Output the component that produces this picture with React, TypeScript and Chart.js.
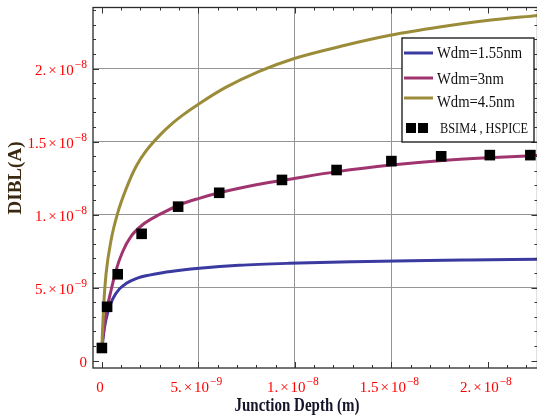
import React, { useEffect, useRef } from "react";
import { Chart, registerables } from "chart.js";

Chart.register(...registerables);

// ---- data (junction depth in m, DIBL in A) ----
const blueX = [0, 0.14e-9, 0.31e-9, 0.57e-9, 0.91e-9, 1.25e-9, 1.77e-9, 2.45e-9, 3.14e-9, 4.17e-9, 5.05e-9, 7.1e-9, 9.7e-9, 13e-9, 16e-9, 19e-9, 22.6e-9];
const blueY = [0.87e-9, 2.3e-9, 3.35e-9, 4.25e-9, 4.92e-9, 5.28e-9, 5.62e-9, 5.86e-9, 6.03e-9, 6.21e-9, 6.33e-9, 6.53e-9, 6.67e-9, 6.78e-9, 6.85e-9, 6.9e-9, 6.95e-9];

const magX = [0, 0.05e-9, 0.22e-9, 0.48e-9, 0.74e-9, 1.08e-9, 1.51e-9, 2.11e-9, 2.97e-9, 4.17e-9, 5.04e-9, 6.08e-9, 8e-9, 10.03e-9, 12.2e-9, 15e-9, 17.5e-9, 20e-9, 22.6e-9];
const magY = [0.87e-9, 1.63e-9, 3.24e-9, 4.84e-9, 6.22e-9, 7.48e-9, 8.51e-9, 9.31e-9, 10.0e-9, 10.75e-9, 11.12e-9, 11.5e-9, 12.05e-9, 12.5e-9, 12.95e-9, 13.4e-9, 13.7e-9, 13.9e-9, 14.05e-9];

const goldX = [0, 0.02e-9, 0.09e-9, 0.22e-9, 0.48e-9, 0.82e-9, 1.25e-9, 1.77e-9, 2.28e-9, 2.97e-9, 3.65e-9, 4.17e-9, 5.04e-9, 6.39e-9, 8.12e-9, 9.97e-9, 12.6e-9, 15e-9, 17.5e-9, 19.95e-9, 22.6e-9];
const goldY = [0.87e-9, 1.63e-9, 3.69e-9, 5.99e-9, 8.28e-9, 10.12e-9, 11.75e-9, 13.3e-9, 14.35e-9, 15.4e-9, 16.25e-9, 16.8e-9, 17.6e-9, 18.7e-9, 19.8e-9, 20.7e-9, 21.6e-9, 22.3e-9, 22.85e-9, 23.3e-9, 23.65e-9];

const bsimX = [0, 0.27e-9, 0.82e-9, 2.06e-9, 3.95e-9, 6.08e-9, 9.33e-9, 12.16e-9, 15e-9, 17.58e-9, 20.1e-9, 22.2e-9];
const bsimY = [0.87e-9, 3.69e-9, 5.92e-9, 8.69e-9, 10.55e-9, 11.5e-9, 12.38e-9, 13.06e-9, 13.67e-9, 14.0e-9, 14.08e-9, 14.08e-9];

const seriesLabels = ["Wdm=1.55nm", "Wdm=3nm", "Wdm=4.5nm", "BSIM4 , HSPICE"];

// tick labels
const xTickValues = [0, 5e-9, 1e-8, 1.5e-8, 2e-8];
const xTickMantissas = ["0", "5.", "1.", "1.5", "2."];
const xTickExponents = ["", "\u22129", "\u22128", "\u22128", "\u22128"];
const yTickValues = [0, 5e-9, 1e-8, 1.5e-8, 2e-8];
const yTickMantissas = ["0", "5.", "1.", "1.5", "2."];
const yTickExponents = ["", "\u22129", "\u22128", "\u22128", "\u22128"];

const xTitle = "Junction Depth (m)";
const yTitle = "DIBL(A)";

const X_MIN = -0.46e-9;
const X_MAX = 22.57e-9;
const Y_MIN = -0.5e-9;
const Y_MAX = 24.19e-9;

const pts = (xs: number[], ys: number[]) => xs.map((x, i) => ({ x, y: ys[i] }));

const SERIF = "'Liberation Serif', 'Times New Roman', serif";

function isMajor(v: number) {
  const r = v / 5e-9;
  return Math.abs(r - Math.round(r)) < 1e-6;
}

function drawSci(ctx: CanvasRenderingContext2D, mant: string, exp: string, x: number, y: number, align: "right" | "center") {
  const mainFont = `15px ${SERIF}`;
  const supFont = `11.5px ${SERIF}`;
  ctx.fillStyle = "#ff0000";
  ctx.textBaseline = "alphabetic";
  ctx.textAlign = "left";
  if (!exp) {
    ctx.font = mainFont;
    const w = ctx.measureText(mant).width;
    ctx.fillText(mant, align === "right" ? x - w : x - w / 2, y);
    return;
  }
  ctx.font = mainFont;
  const wM = ctx.measureText(mant).width;
  const wX = ctx.measureText("\u00d7").width;
  const w10 = ctx.measureText("10").width;
  ctx.font = supFont;
  const wE = ctx.measureText(exp).width;
  const gap = 2;
  const total = wM + gap + wX + gap + w10 + 1 + wE;
  let sx = align === "right" ? x - total : x - total / 2;
  ctx.font = mainFont;
  ctx.fillText(mant, sx, y);
  sx += wM + gap;
  ctx.fillText("\u00d7", sx, y);
  sx += wX + gap;
  ctx.fillText("10", sx, y);
  sx += w10 + 1;
  ctx.font = supFont;
  ctx.fillText(exp, sx, y - 7);
}

function fitText(ctx: CanvasRenderingContext2D, text: string, x: number, y: number, font: string, targetW: number, align: "left" | "center") {
  ctx.font = font;
  const w = ctx.measureText(text).width;
  const s = targetW / w;
  ctx.save();
  ctx.translate(x, y);
  ctx.scale(s, 1);
  ctx.textAlign = align;
  ctx.fillText(text, 0, 0);
  ctx.restore();
}

const decorPlugin = {
  id: "decor",
  afterDatasetsDraw(chart: any) {
    const ctx: CanvasRenderingContext2D = chart.ctx;
    const area = chart.chartArea;
    const xs = chart.scales.x;
    const ys = chart.scales.y;
    ctx.save();

    // frame
    ctx.strokeStyle = "#2a2a2a";
    ctx.lineWidth = 1.3;
    ctx.strokeRect(area.left, area.top, area.right - area.left, area.bottom - area.top);

    // inward ticks
    ctx.lineWidth = 1;
    ctx.strokeStyle = "#333";
    ctx.beginPath();
    for (let i = 0; i <= 22; i++) {
      const v = i * 1e-9;
      const px = Math.round(xs.getPixelForValue(v)) + 0.5;
      const len = isMajor(v) ? 6 : 3;
      ctx.moveTo(px, area.bottom);
      ctx.lineTo(px, area.bottom - len);
      ctx.moveTo(px, area.top);
      ctx.lineTo(px, area.top + len);
    }
    for (let i = 0; i <= 24; i++) {
      const v = i * 1e-9;
      const py = Math.round(ys.getPixelForValue(v)) + 0.5;
      const len = isMajor(v) ? 6 : 3;
      ctx.moveTo(area.left, py);
      ctx.lineTo(area.left + len, py);
      ctx.moveTo(area.right, py);
      ctx.lineTo(area.right - len, py);
    }
    ctx.stroke();

    // tick labels
    yTickValues.forEach((v, i) => {
      drawSci(ctx, yTickMantissas[i], yTickExponents[i], area.left - 6, ys.getPixelForValue(v) + 6, "right");
    });
    xTickValues.forEach((v, i) => {
      drawSci(ctx, xTickMantissas[i], xTickExponents[i], xs.getPixelForValue(v) - 2, area.bottom + 24, "center");
    });

    // axis titles
    ctx.fillStyle = "#15152a";
    ctx.textBaseline = "alphabetic";
    fitText(ctx, xTitle, 297, 411, `bold 18px ${SERIF}`, 125, "center");
    ctx.save();
    ctx.translate(16, 178);
    ctx.rotate(-Math.PI / 2);
    ctx.fillStyle = "#3a2810";
    ctx.textBaseline = "middle";
    fitText(ctx, yTitle, 0, 0, `bold 18px ${SERIF}`, 73, "center");
    ctx.restore();

    // legend
    const lx = 402, ly = 38, lw = 132, lh = 104;
    ctx.fillStyle = "#ffffff";
    ctx.fillRect(lx, ly, lw, lh);
    ctx.strokeStyle = "#111";
    ctx.lineWidth = 1.3;
    ctx.strokeRect(lx, ly, lw, lh);
    const ds = chart.data.datasets;
    const rowsLineY = [53, 78, 98];
    const rowsTextY = [58, 84, 107];
    const lineDs = [ds[1], ds[2], ds[3]];
    lineDs.forEach((d: any, i: number) => {
      ctx.strokeStyle = d.borderColor;
      ctx.lineWidth = 3;
      ctx.beginPath();
      ctx.moveTo(404, rowsLineY[i]);
      ctx.lineTo(433, rowsLineY[i]);
      ctx.stroke();
      ctx.fillStyle = "#111";
      ctx.textBaseline = "alphabetic";
      ctx.font = `16px ${SERIF}`;
      const w = ctx.measureText(d.label).width;
      fitText(ctx, d.label, 437, rowsTextY[i], `16px ${SERIF}`, w * 0.915, "left");
    });
    ctx.fillStyle = "#000";
    ctx.fillRect(406, 123, 10, 10);
    ctx.fillRect(418, 123, 10, 10);
    ctx.fillStyle = "#111";
    fitText(ctx, ds[0].label, 440, 133, `14px ${SERIF}`, 88, "left");

    ctx.restore();
  },
};

export default function App() {
  const ref = useRef<HTMLCanvasElement | null>(null);

  useEffect(() => {
    if (!ref.current) return;
    const gridColor = (c: any) => {
      const v = c.tick ? c.tick.value : 0;
      if (Math.abs(v) < 1e-12) return "rgba(0,0,0,0)";
      return isMajor(v) ? "#959595" : "rgba(0,0,0,0)";
    };
    const chart = new Chart(ref.current, {
      type: "scatter",
      data: {
        datasets: [
          {
            label: seriesLabels[3],
            data: pts(bsimX, bsimY),
            pointStyle: "rect",
            pointRadius: 7.5,
            backgroundColor: "#000",
            borderColor: "#000",
            borderWidth: 0,
            showLine: false,
            clip: false,
            order: 0,
          },
          {
            label: seriesLabels[0],
            data: pts(blueX, blueY),
            borderColor: "rgb(58,58,160)",
            borderWidth: 3,
            pointRadius: 0,
            showLine: true,
            cubicInterpolationMode: "monotone",
            order: 3,
          },
          {
            label: seriesLabels[1],
            data: pts(magX, magY),
            borderColor: "rgb(160,52,110)",
            borderWidth: 3,
            pointRadius: 0,
            showLine: true,
            cubicInterpolationMode: "monotone",
            order: 2,
          },
          {
            label: seriesLabels[2],
            data: pts(goldX, goldY),
            borderColor: "rgb(155,140,58)",
            borderWidth: 3,
            pointRadius: 0,
            showLine: true,
            cubicInterpolationMode: "monotone",
            order: 1,
          },
        ],
      } as any,
      options: {
        responsive: false,
        animation: false,
        devicePixelRatio: 1,
        layout: { padding: { left: 93, top: 6, right: 4, bottom: 51 } },
        plugins: { legend: { display: false }, tooltip: { enabled: false } },
        scales: {
          x: {
            type: "linear",
            min: X_MIN,
            max: X_MAX,
            ticks: { display: false, stepSize: 5e-9 },
            grid: { color: gridColor, lineWidth: 1, drawTicks: false },
            border: { display: false },
            afterFit: (s: any) => { s.height = 0; },
          },
          y: {
            type: "linear",
            min: Y_MIN,
            max: Y_MAX,
            ticks: { display: false, stepSize: 5e-9 },
            grid: { color: gridColor, lineWidth: 1, drawTicks: false },
            border: { display: false },
            afterFit: (s: any) => { s.width = 0; },
          },
        },
      } as any,
      plugins: [decorPlugin],
    });
    return () => chart.destroy();
  }, []);

  return (
    <div style={{ position: "fixed", left: 0, top: 0, width: 537, height: 419, overflow: "hidden", background: "#fff" }}>
      <canvas ref={ref} width={545} height={419} style={{ display: "block" }} />
    </div>
  );
}
